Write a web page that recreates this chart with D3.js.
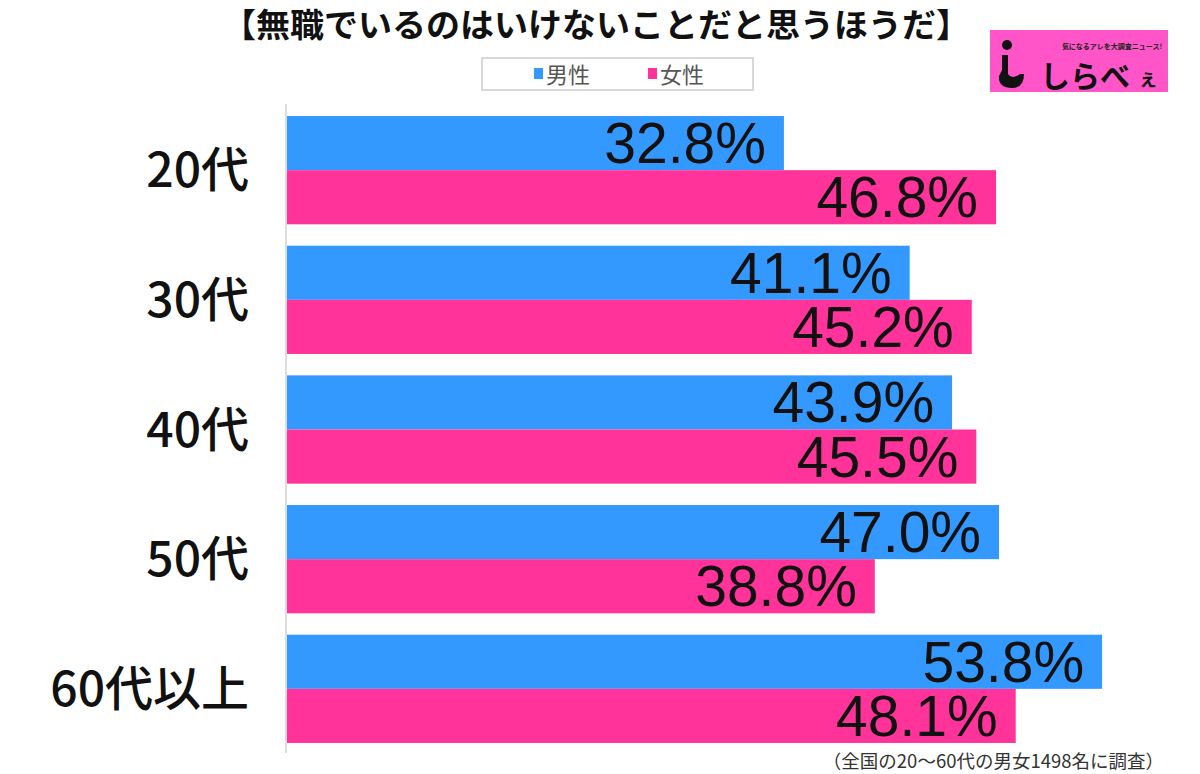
<!DOCTYPE html>
<html><head><meta charset="utf-8">
<script src="https://cdn.jsdelivr.net/npm/d3@7"></script>
<style>body{margin:0;background:#fff;} svg{display:block;}</style>
</head><body>
<svg id="c" width="1200" height="774"></svg>
<script>
const categories = ["20代","30代","40代","50代","60代以上"];
const seriesNames = ["男性","女性"];
const male = [32.8, 41.1, 43.9, 47.0, 53.8];
const female = [46.8, 45.2, 45.5, 38.8, 48.1];
const colors = ["#3399ff", "#ff3399"];
const title = "【無職でいるのはいけないことだと思うほうだ】";
const footnote = "（全国の20〜60代の男女1498名に調査）";

const svg = d3.select("#c");
const font = "'Noto Sans CJK JP', 'Liberation Sans', sans-serif";

const x = d3.scaleLinear().domain([0, 60]).range([287, 287 + 909]);
const y = d3.scaleBand().domain(categories).range([105, 754]).paddingInner(0.165).paddingOuter(0.085);
const ys = d3.scaleBand().domain(seriesNames).range([0, y.bandwidth()]);

// title
svg.append("text").attr("x", 596).attr("y", 37).attr("text-anchor", "middle")
  .attr("font-family", font).attr("font-weight", "bold").attr("font-size", 33).attr("fill", "#111")
  .attr("textLength", 748).attr("lengthAdjust", "spacingAndGlyphs")
  .text(title);

// legend
svg.append("rect").attr("x", 482).attr("y", 58).attr("width", 271).attr("height", 32)
  .attr("fill", "#fff").attr("stroke", "#ccc").attr("stroke-width", 1.5);
const legX = [534, 648];
seriesNames.forEach((s, i) => {
  svg.append("rect").attr("x", legX[i]).attr("y", 68).attr("width", 9).attr("height", 11).attr("fill", colors[i]);
  svg.append("text").attr("x", legX[i] + 12).attr("y", 83).attr("font-family", font).attr("font-size", 22)
    .attr("fill", "#555").text(s);
});

// logo
const lg = svg.append("g");
lg.append("rect").attr("x", 990).attr("y", 30).attr("width", 178).attr("height", 62).attr("fill", "#ff55c8");
lg.append("text").attr("x", 1112).attr("y", 49).attr("text-anchor", "middle").attr("font-family", font)
  .attr("font-weight", "bold").attr("font-size", 7).attr("fill", "#222").text("気になるアレを大調査ニュース!");
lg.append("circle").attr("cx", 1007).attr("cy", 45).attr("r", 5).attr("fill", "#111");
lg.append("path").attr("d", "M1002,55 L1008,55 L1008,74 Q1012,80 1020,74 L1024,74 Q1024,88 1012,88 Q998,88 999,76 L1002,70 Z")
  .attr("fill", "#111");
lg.append("text").attr("x", 1040).attr("y", 87).attr("font-family", font).attr("font-weight", "bold")
  .attr("font-size", 30).attr("fill", "#111").text("しらべ");
lg.append("text").attr("x", 1138).attr("y", 86).attr("font-family", font).attr("font-weight", "bold")
  .attr("font-size", 20).attr("fill", "#111").text("ぇ");

// axis line
svg.append("line").attr("x1", 286).attr("x2", 286).attr("y1", 104).attr("y2", 753)
  .attr("stroke", "#ddd").attr("stroke-width", 2);

const data = categories.map((c, i) => ({c, vals: [male[i], female[i]]}));
const g = svg.append("g").selectAll("g").data(data).join("g")
  .attr("transform", d => `translate(0,${y(d.c)})`);
g.selectAll("rect").data(d => d.vals.map((v, i) => ({v, s: seriesNames[i], i}))).join("rect")
  .attr("x", x(0)).attr("y", d => ys(d.s)).attr("width", d => x(d.v) - x(0)).attr("height", ys.bandwidth())
  .attr("fill", d => colors[d.i]);
g.selectAll("text.v").data(d => d.vals.map((v, i) => ({v, s: seriesNames[i], i}))).join("text")
  .attr("class", "v").attr("x", d => x(d.v) - 18).attr("y", d => ys(d.s) + ys.bandwidth() / 2 + 20)
  .attr("text-anchor", "end").attr("font-family", "'Liberation Sans', Arial, sans-serif")
  .attr("font-size", 57).attr("fill", "#111").text(d => d.v.toFixed(1) + "%");

// category labels
svg.append("g").selectAll("text").data(categories).join("text")
  .attr("x", 249).attr("y", d => y(d) + y.bandwidth() / 2 + 17).attr("text-anchor", "end")
  .attr("font-family", font).attr("font-weight", 500).attr("font-size", 48).attr("fill", "#111").text(d => d);

// footnote
svg.append("text").attr("x", 1164).attr("y", 768).attr("text-anchor", "end").attr("font-family", font)
  .attr("font-size", 18.5).attr("fill", "#333").text(footnote);
</script>
</body></html>
